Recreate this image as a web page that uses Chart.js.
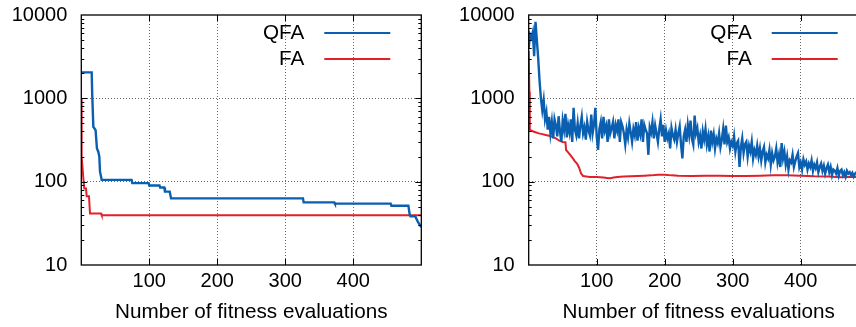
<!DOCTYPE html>
<html><head><meta charset="utf-8">
<script src="https://cdn.jsdelivr.net/npm/chart.js@4"></script>
<style>
html,body{margin:0;padding:0;background:#fff;overflow:hidden;width:856px;height:327px;}
#wrapL{position:absolute;left:0;top:0;width:430px;height:327px;}
#wrapR{position:absolute;left:430px;top:0;width:440px;height:327px;}
</style></head><body>
<div id="wrapL"><canvas id="cL"></canvas></div>
<div id="wrapR"><canvas id="cR"></canvas></div>
<script>
const seriesNames = ['QFA', 'FA'];
const seriesColors = ['#0a5fb0', '#e0202a'];
const xTickValues = [100, 200, 300, 400];
const yTickValues = [10, 100, 1000, 10000];
const xTitle = 'Number of fitness evaluations';

// Left panel
const leftQfaEvals = [0,15.3,16,17.7,21,23,25,26.5,27.5,30,74,75,99,100,115,116,122,123,130,132,326,327,372,373,455,456,481,483,484,491,495,500];
const leftQfaValues = [2050,2050,1150,456,415,251,229,200,132,105,105,96,96,90,90,85,85,76,76,63,63,56.5,56.5,54.5,54.5,51.5,51.5,40,38.5,38.5,33,28.5];
const leftFaEvals = [0,0.5,2,3,4.4,6.9,7.9,11.3,12.8,29,30,500];
const leftFaValues = [1000,200,140,110,83,83,67,67,41.5,41.5,39.5,39.5];

// Right panel (QFA sampled every 2 evaluations from 0)
const rightQfaStart = 0;
const rightQfaStep = 2;
const rightQfaValues = [
  4000,5800,5300,6200,3200,8300,5000,3000,1600,1000,
  720,950,560,680,420,600,380,520,330,560,
  470,350,610,400,300,540,420,650,340,480,
  390,560,300,770,420,360,500,330,470,600,
  380,450,320,520,410,360,640,380,480,770,
  350,240,430,520,330,600,410,470,300,560,
  380,440,520,330,480,410,560,300,520,460,
  380,280,420,340,500,390,300,430,360,520,
  310,440,370,560,300,480,420,380,210,450,
  390,520,330,470,380,300,430,560,350,480,
  300,410,330,380,250,440,360,320,420,300,
  380,460,280,190,350,420,300,480,360,540,
  330,280,620,380,440,300,360,250,400,320,
  430,280,350,230,410,300,370,250,330,290,
  380,260,320,430,280,470,300,340,250,300,
  270,350,230,290,310,150,260,330,220,280,
  300,200,270,230,300,190,240,210,270,200,
  250,180,230,260,170,210,190,240,160,220,
  180,200,250,170,210,150,290,190,230,160,
  200,140,180,170,210,150,175,200,220,150,
  170,140,185,160,175,140,165,150,180,135,
  160,145,170,130,150,165,135,155,125,145,
  160,130,150,120,140,135,125,145,118,135,
  140,120,130,115,135,125,130,120,128,115,
  125,130,118,126,112,122,116,120,110,115
];
const rightFaEvals = [0,1,1.6,5,10,15,20,25,30,35,40,45,50,54,55,58,61,65,68,71,74,77,80,85,90,95,100,105,110,115,120,125,130,140,150,160,170,180,190,200,210,220,240,260,280,300,320,340,360,380,400,420,440,460,470,480,490,500];
const rightFaValues = [3700,1200,420,405,392,380,372,363,355,345,331,310,300,298,240,225,210,190,175,165,148,125,117,115,114,114,114,113,112,111,110,112,114,115,116,117,118,119,121,121,119,118,117,118,118,117,117,118,119,119,118,116,115,113,114,114,113,113];

const FONT = "'Liberation Sans', Arial, Helvetica, sans-serif";
Chart.defaults.font.family = FONT;
Chart.defaults.font.size = 20;
Chart.defaults.color = '#000';

const pairs = (xs, ys) => ys.map((y, i) => ({x: xs[i], y}));

const framePlugin = {
  id: 'frame',
  afterDraw(chart) {
    const {ctx, chartArea: a, scales: {x, y}} = chart;
    ctx.save();
    ctx.strokeStyle = '#000';
    ctx.lineWidth = 1;
    ctx.beginPath();
    for (let d = 10; d < 10000; d *= 10) {
      for (let m = 1; m < 10; m++) {
        const v = d * m;
        if (v <= 10) continue;
        const py = Math.round(y.getPixelForValue(v)) + 0.5;
        const len = m === 1 ? 6 : 3;
        ctx.moveTo(a.left, py); ctx.lineTo(a.left + len, py);
        ctx.moveTo(a.right, py); ctx.lineTo(a.right - len, py);
      }
    }
    xTickValues.forEach(v => {
      const px = Math.round(x.getPixelForValue(v)) + 0.5;
      ctx.moveTo(px, a.bottom); ctx.lineTo(px, a.bottom - 6);
      ctx.moveTo(px, a.top); ctx.lineTo(px, a.top + 6);
    });
    ctx.stroke();
    ctx.lineWidth = 1.3;
    ctx.strokeRect(a.left, a.top, a.right - a.left, a.bottom - a.top);
    // gnuplot-style key
    ctx.font = '20.7px ' + FONT;
    ctx.textAlign = 'right';
    ctx.textBaseline = 'middle';
    chart.data.datasets.forEach((ds, i) => {
      const yy = a.top + 18 + i * 26;
      ctx.fillStyle = '#000';
      ctx.fillText(ds.label, a.right - 117, yy);
      ctx.strokeStyle = ds.borderColor;
      ctx.lineWidth = 2.2;
      ctx.beginPath();
      ctx.moveTo(a.right - 97, yy); ctx.lineTo(a.right - 31, yy);
      ctx.stroke();
    });
    ctx.restore();
  }
};

function zeroPad(s) { s.paddingTop = 0; s.paddingBottom = 0; s.paddingLeft = 0; s.paddingRight = 0; }

function makeChart(id, qfa, fa, yWidth, padRight) {
  return new Chart(document.getElementById(id), {
    type: 'line',
    data: {
      datasets: [
        {label: seriesNames[0], data: qfa, borderColor: seriesColors[0], borderWidth: 2.4, pointRadius: 0, tension: 0},
        {label: seriesNames[1], data: fa, borderColor: seriesColors[1], borderWidth: 2, pointRadius: 0, tension: 0}
      ]
    },
    options: {
      responsive: true, maintainAspectRatio: false, animation: false, devicePixelRatio: 1,
      events: [],
      layout: {padding: {top: 15, right: padRight, left: 0, bottom: 0}},
      plugins: {legend: {display: false}, tooltip: {enabled: false}},
      scales: {
        x: {
          type: 'linear', min: 0, max: 500,
          afterBuildTicks: s => { s.ticks = xTickValues.map(v => ({value: v})); },
          afterFit: s => { s.height = 62; zeroPad(s); },
          ticks: {callback: v => String(v), padding: 4, maxRotation: 0, autoSkip: false},
          grid: {color: '#666', lineWidth: 1, drawTicks: false},
          border: {display: false, dash: [1, 2]},
          title: {display: true, text: xTitle, font: {size: 20.7}, padding: {top: 0, bottom: 2}}
        },
        y: {
          type: 'logarithmic', min: 10, max: 10000,
          afterBuildTicks: s => { s.ticks = yTickValues.map(v => ({value: v})); },
          afterFit: s => { s.width = yWidth; zeroPad(s); },
          ticks: {callback: v => String(v), padding: 14, autoSkip: false},
          grid: {color: c => (c.tick && (c.tick.value === 100 || c.tick.value === 1000)) ? '#666' : 'rgba(0,0,0,0)', lineWidth: 1, drawTicks: false},
          border: {display: false, dash: [1, 2]}
        }
      }
    },
    plugins: [framePlugin]
  });
}

makeChart('cL', pairs(leftQfaEvals, leftQfaValues), pairs(leftFaEvals, leftFaValues), 81.3, 8.7);
makeChart('cR',
  rightQfaValues.map((y, i) => ({x: rightQfaStart + i * rightQfaStep, y})),
  pairs(rightFaEvals, rightFaValues), 98.7, 1.3);
</script>
</body></html>
